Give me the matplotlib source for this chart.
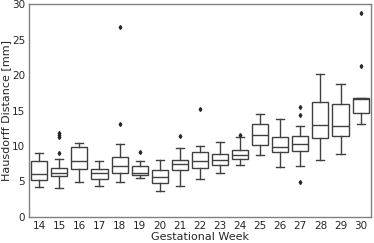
import matplotlib
matplotlib.use("Agg")
import matplotlib.pyplot as plt

weeks = [14, 15, 16, 17, 18, 19, 20, 21, 22, 23, 24, 25, 26, 27, 28, 29, 30]
whislo = [4.24, 4.10, 4.95, 4.34, 4.86, 5.47, 3.67, 4.29, 5.33, 6.22, 7.30, 8.71, 7.02, 7.16, 7.96, 8.81, 13.14]
q1 = [5.18, 5.75, 6.78, 5.33, 6.17, 5.89, 4.72, 6.55, 6.83, 7.26, 8.10, 10.13, 9.09, 9.32, 11.12, 11.35, 14.69]
med = [6.03, 6.22, 7.82, 6.22, 7.16, 6.22, 5.61, 7.49, 7.82, 8.00, 8.71, 11.58, 9.89, 10.22, 13.00, 12.81, 16.67]
q3 = [7.91, 6.83, 9.89, 6.69, 8.39, 7.20, 6.64, 8.00, 9.18, 8.86, 9.38, 13.05, 11.26, 11.35, 16.24, 15.96, 16.81]
whishi = [8.95, 8.10, 10.37, 7.87, 10.22, 7.91, 8.00, 9.70, 9.94, 10.55, 11.21, 14.46, 13.76, 12.77, 20.20, 18.70, 16.81]
outliers = [
    [],
    [11.9, 11.55, 11.2, 9.04],
    [],
    [],
    [26.84, 13.14],
    [9.18],
    [],
    [11.44],
    [15.17],
    [],
    [11.5],
    [],
    [],
    [15.45, 14.41, 4.9],
    [],
    [],
    [28.73, 21.29],
]

stats = []
for i in range(len(weeks)):
    stats.append(dict(med=med[i], q1=q1[i], q3=q3[i], whislo=whislo[i],
                      whishi=whishi[i], fliers=outliers[i], label=str(weeks[i])))

plt.rcParams['font.family'] = ['DejaVu Sans']
fig = plt.figure(figsize=(3.74, 2.43), dpi=100)
ax = fig.add_axes([0.078, 0.108, 0.913, 0.874])

lc = '0.25'
ax.bxp(stats, positions=range(len(weeks)), widths=0.8, patch_artist=True,
       boxprops=dict(facecolor='white', edgecolor=lc, linewidth=1.0),
       medianprops=dict(color=lc, linewidth=1.0),
       whiskerprops=dict(color=lc, linewidth=1.0),
       capprops=dict(color=lc, linewidth=1.0),
       flierprops=dict(marker='d', markersize=2, markerfacecolor='0.15',
                       markeredgecolor='0.15'))

ax.set_xlim(-0.5, len(weeks) - 0.5)
ax.set_ylim(0, 30)
ax.set_yticks([0, 5, 10, 15, 20, 25, 30])
ax.set_xticks(range(len(weeks)))
ax.set_xticklabels([str(w) for w in weeks])
ax.tick_params(length=0, labelsize=7.5, colors='0.15', pad=3)
for s in ax.spines.values():
    s.set_color('0.5')
    s.set_linewidth(1.0)
ax.set_xlabel('Gestational Week', fontsize=8, color='0.15', labelpad=1)
ax.set_ylabel('Hausdorff Distance [mm]', fontsize=8, color='0.15', labelpad=0.5)

fig.savefig('out.png', dpi=100)
